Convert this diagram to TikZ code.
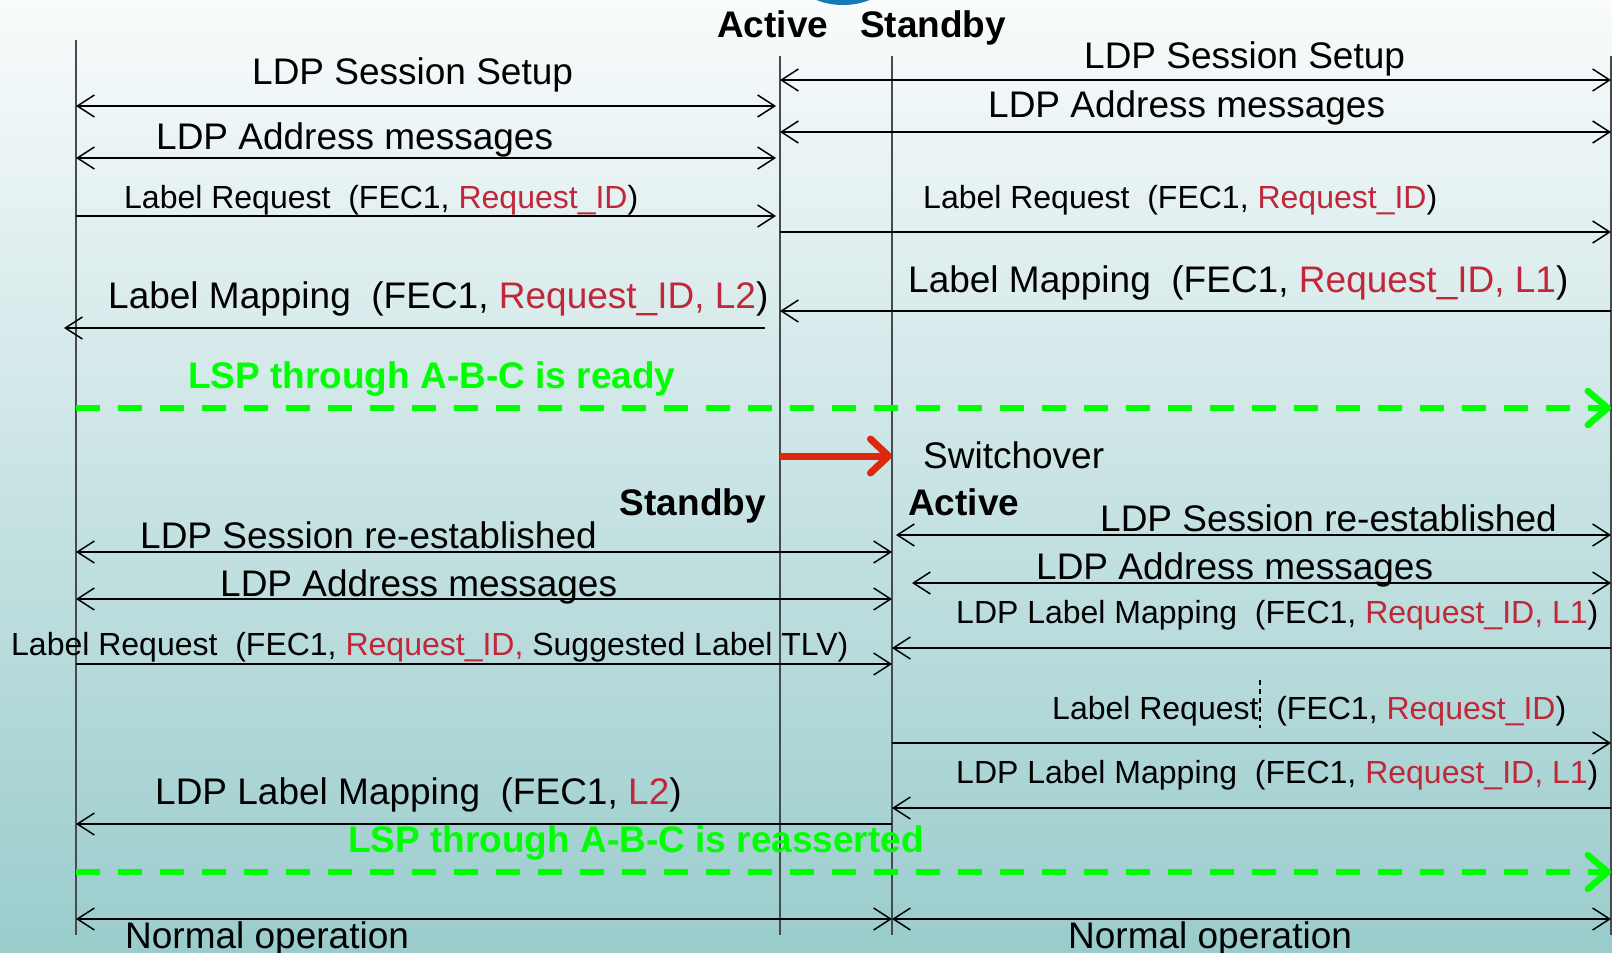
\documentclass[tikz,border=0pt]{standalone}
\usepackage{fontspec}
\setmainfont{Liberation Sans}
\usetikzlibrary{arrows.meta}
\definecolor{bgtop}{RGB}{249,251,252}
\definecolor{bgbot}{RGB}{154,204,204}
\definecolor{rtxt}{RGB}{192,40,58}
\definecolor{lsp}{RGB}{0,255,0}
\definecolor{swred}{RGB}{222,40,12}
\definecolor{lifeg}{RGB}{70,75,78}
\definecolor{topblue}{RGB}{20,122,182}
\begin{document}
\begin{tikzpicture}[x=1pt,y=-1pt,
  big/.style={font=\fontsize{37}{40}\selectfont, inner sep=0pt, anchor=base west},
  small/.style={font=\fontsize{32}{34}\selectfont, inner sep=0pt, anchor=base west},
  boldtxt/.style={font=\fontsize{37}{40}\selectfont\bfseries, inner sep=0pt, anchor=base west},
  lsptext/.style={boldtxt, text=lsp},
  life/.style={draw=lifeg, line width=1.6pt},
  msg/.style={line width=1.5pt, >={Straight Barb[length=17pt,width=22pt]}},
  lspline/.style={draw=lsp, line width=6.5pt, dash pattern=on 24pt off 18pt, -{Straight Barb[length=20pt,width=34pt,round]}},
  swarrow/.style={draw=swred, line width=7pt, -{Straight Barb[length=18pt,width=34pt,round]}},
]
\useasboundingbox (0,0) rectangle (1612,953);
\shade[top color=bgtop, bottom color=bgbot] (0,0) rectangle (1612,953);
\fill[topblue] (843,-25) ellipse [x radius=48, y radius=30];

% lifelines
\coordinate (l1) at (76,40);   \coordinate (l1e) at (76,935);
\coordinate (l2) at (780,56);  \coordinate (l2e) at (780,935);
\coordinate (l3) at (892,56);  \coordinate (l3e) at (892,935);
\coordinate (l4) at (1611,56); \coordinate (l4e) at (1611,935);
\draw[life] (l1) -- (l1e);
\draw[life] (l2) -- (l2e);
\draw[life] (l3) -- (l3e);
\draw[life] (l4) -- (l4e);

% left, before switchover
\draw[msg,<->,shorten >=4pt] (l1 |- 0,106) -- (l2 |- 0,106);
\draw[msg,<->,shorten >=4pt] (l1 |- 0,158) -- (l2 |- 0,158);
\draw[msg,->,shorten >=4pt] (l1 |- 0,216) -- (l2 |- 0,216);
\coordinate (a4s) at (765,328); \coordinate (a4e) at (64,328);
\draw[msg,->] (a4s) -- (a4e);

% right, before switchover
\draw[msg,<->] (l2 |- 0,80) -- (l4 |- 0,80);
\draw[msg,<->] (l2 |- 0,132) -- (l4 |- 0,132);
\draw[msg,->] (l2 |- 0,232) -- (l4 |- 0,232);
\draw[msg,->] (l4 |- 0,311) -- (l2 |- 0,311);

% LSP ready
\draw[lspline] (l1 |- 0,408) -- (l4 |- 0,408);

% switchover
\draw[swarrow] (l2 |- 0,456) -- (l3 |- 0,456);

% left, after
\draw[msg,<->] (l1 |- 0,552) -- (l3 |- 0,552);
\draw[msg,<->] (l1 |- 0,599) -- (l3 |- 0,599);
\draw[msg,->] (l1 |- 0,664) -- (l3 |- 0,664);
\draw[msg,->] (l3 |- 0,824) -- (l1 |- 0,824);

% right, after
\coordinate (d1s) at (896,535);
\draw[msg,<->] (d1s) -- (l4 |- 0,535);
\coordinate (d2s) at (912,583);
\draw[msg,<->] (d2s) -- (l4 |- 0,583);
\draw[msg,->] (l4 |- 0,648) -- (l3 |- 0,648);
\draw[msg,->] (l3 |- 0,743) -- (l4 |- 0,743);
\draw[msg,->] (l4 |- 0,808) -- (l3 |- 0,808);
\draw[line width=1.2pt, dash pattern=on 5pt off 4pt] (1260,680) -- (1260,728);

% LSP reasserted
\draw[lspline] (l1 |- 0,872) -- (l4 |- 0,872);

% normal operation
\draw[msg,<->] (l1 |- 0,919) -- (l3 |- 0,919);
\draw[msg,<->] (l3 |- 0,919) -- (l4 |- 0,919);

% texts
\node[boldtxt] (tact) at (717,37) {Active};
\node[boldtxt] (tstb) at (860,37) {Standby};

\node[big] (ta1) at (252,84) {LDP Session Setup};
\node[big] (ta2) at (156,149) {LDP Address messages};
\node[small] (ta3) at (124,208) {Label Request\ \ (FEC1, \textcolor{rtxt}{Request\_ID})};
\node[big] (ta4) at (108,308) {Label Mapping\ \ (FEC1, \textcolor{rtxt}{Request\_ID, L2})};
\node[lsptext] (tg1) at (188,388) {LSP through A-B-C is ready};

\node[big] (tb1) at (1084,68) {LDP Session Setup};
\node[big] (tb2) at (988,117) {LDP Address messages};
\node[small] (tb3) at (923,208) {Label Request\ \ (FEC1, \textcolor{rtxt}{Request\_ID})};
\node[big] (tb4) at (908,292) {Label Mapping\ \ (FEC1, \textcolor{rtxt}{Request\_ID, L1})};

\node[big] (tsw) at (923,468) {Switchover};
\node[boldtxt,anchor=base east] (tsb2) at (766,515) {Standby};
\node[boldtxt] (tac2) at (908,515) {Active};

\node[big] (tc1) at (140,548) {LDP Session re-established};
\node[big] (tc2) at (220,596) {LDP Address messages};
\node[small] (tc3) at (11,655) {Label Request\ \ (FEC1, \textcolor{rtxt}{Request\_ID,} Suggested Label TLV)};
\node[big] (tc4) at (155,804) {LDP Label Mapping\ \ (FEC1, \textcolor{rtxt}{L2})};

\node[big] (td1) at (1100,531) {LDP Session re-established};
\node[big] (td2) at (1036,579) {LDP Address messages};
\node[small] (td3) at (956,623) {LDP Label Mapping\ \ (FEC1, \textcolor{rtxt}{Request\_ID, L1})};
\node[small] (td4) at (1052,719) {Label Request\ \ (FEC1, \textcolor{rtxt}{Request\_ID})};
\node[small] (td5) at (956,783) {LDP Label Mapping\ \ (FEC1, \textcolor{rtxt}{Request\_ID, L1})};

\node[lsptext] (tg2) at (348,852) {LSP through A-B-C is reasserted};

\node[big] (tn1) at (125,948) {Normal operation};
\node[big] (tn2) at (1068,948) {Normal operation};
\end{tikzpicture}
\end{document}
